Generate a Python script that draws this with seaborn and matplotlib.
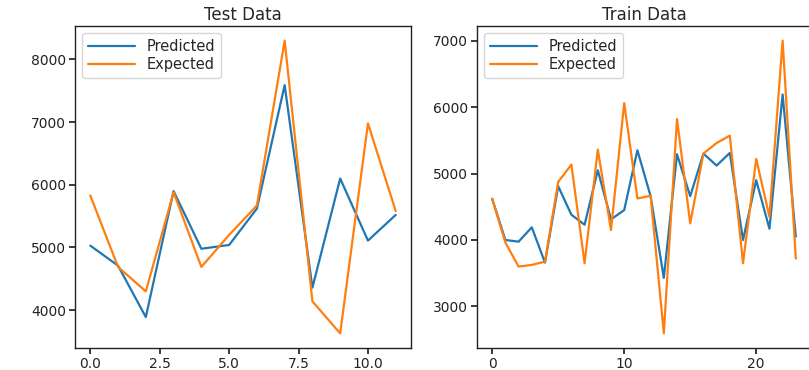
import numpy as np
import pandas as pd
import matplotlib
matplotlib.use("Agg")
import matplotlib.pyplot as plt
import seaborn as sns

test_predicted = [5030, 4710, 3890, 5900, 4980, 5040, 5620, 7590, 4360, 6100, 5110, 5520]
test_expected = [5830, 4690, 4300, 5880, 4690, 5200, 5670, 8300, 4140, 3630, 6980, 5580]

train_predicted = [4620, 4000, 3975, 4190, 3660, 4810, 4380, 4230, 5050, 4310, 4450, 5350,
                   4660, 3430, 5290, 4660, 5300, 5120, 5310, 4000, 4900, 4170, 6190, 4050]
train_expected = [4620, 3960, 3600, 3625, 3675, 4875, 5135, 3650, 5360, 4150, 6060, 4625,
                  4665, 2595, 5820, 4250, 5300, 5460, 5570, 3650, 5220, 4350, 7000, 3720]

titles = ["Test Data", "Train Data"]

sns.set_theme(style="ticks", rc={"axes.edgecolor": "#222222"})
plt.rcParams['font.family'] = ['DejaVu Sans']

fig = plt.figure(figsize=(8.09, 3.70), dpi=100)
ax1 = fig.add_axes([75/809, 1-348/370, 336/809, 322/370])
ax2 = fig.add_axes([477/809, 1-348/370, 334/809, 322/370])

pal = sns.color_palette("tab10")
for ax, pred, exp, title in [(ax1, test_predicted, test_expected, titles[0]),
                             (ax2, train_predicted, train_expected, titles[1])]:
    df = pd.DataFrame({"x": np.arange(len(pred)), "Predicted": pred, "Expected": exp})
    sns.lineplot(data=df, x="x", y="Predicted", ax=ax, color=pal[0], label="Predicted", linewidth=1.6)
    sns.lineplot(data=df, x="x", y="Expected", ax=ax, color=pal[1], label="Expected", linewidth=1.6)
    ax.set_xlabel("")
    ax.set_ylabel("")
    ax.set_title(title, fontsize=12, pad=4)
    ax.tick_params(labelsize=10, length=4, pad=2.5, colors="#222222")
    for s in ax.spines.values():
        s.set_visible(True)
        s.set_linewidth(1.0)
    ax.legend(loc="upper left", fontsize=10.5, handlelength=3.2, borderpad=0.4,
              labelspacing=0.2, frameon=True)

ax1.set_xticks([0, 2.5, 5, 7.5, 10])
ax1.set_xticklabels(["0.0", "2.5", "5.0", "7.5", "10.0"])
ax1.set_yticks([4000, 5000, 6000, 7000, 8000])
ax2.set_xticks([0, 10, 20])
ax2.set_yticks([3000, 4000, 5000, 6000, 7000])

fig.savefig("out.png", dpi=100)
